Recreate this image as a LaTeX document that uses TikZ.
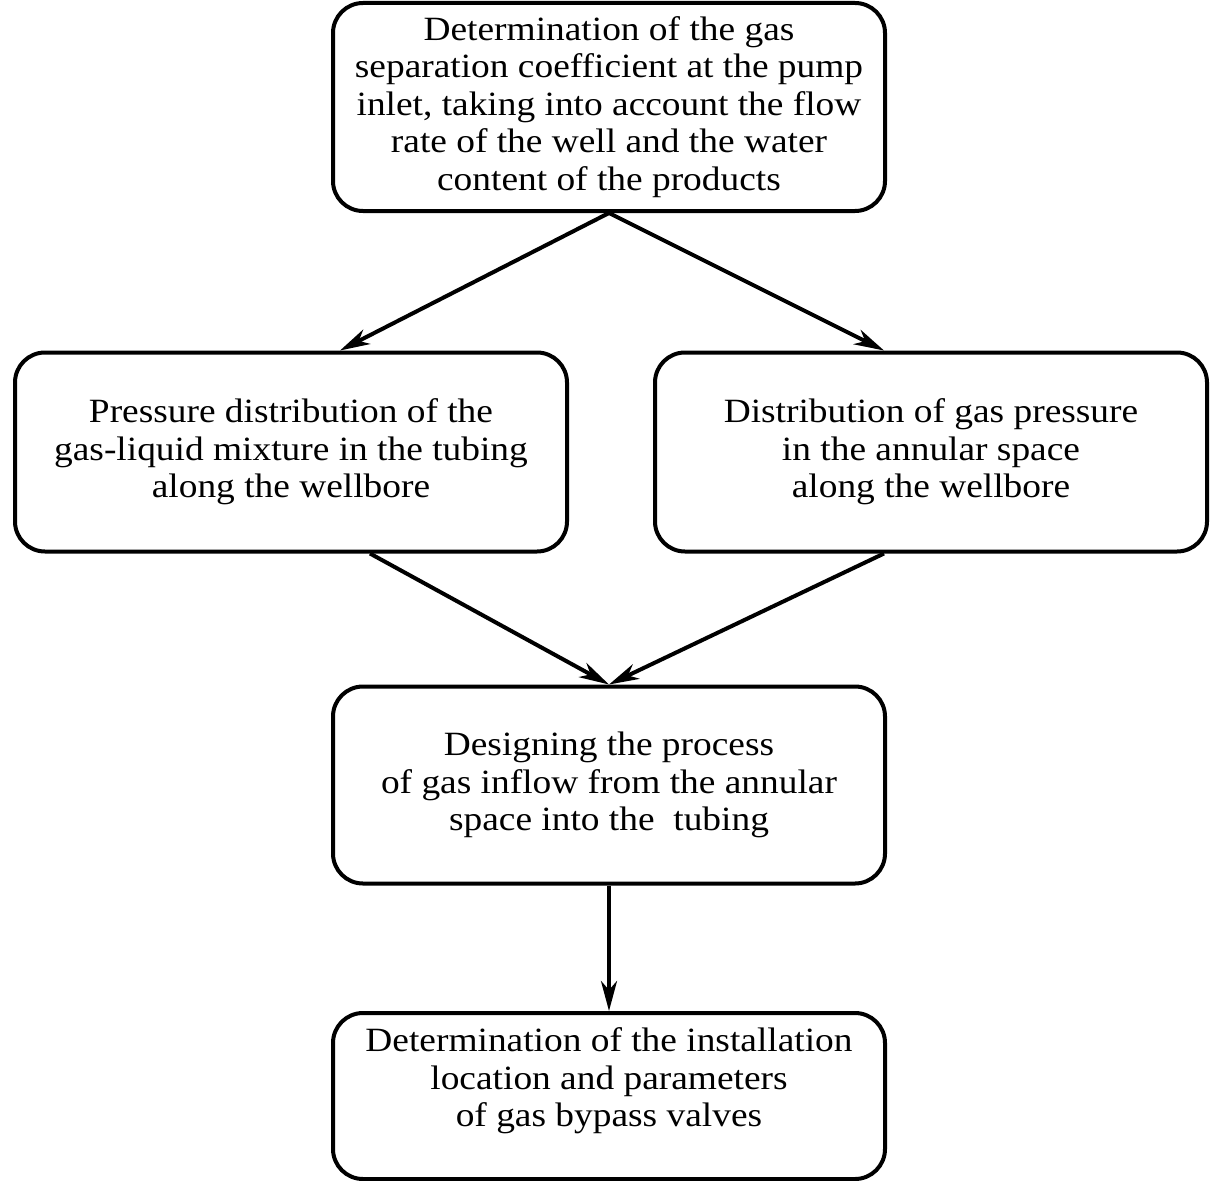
\documentclass[tikz,border=0pt]{standalone}
\usepackage{fontspec}
\setmainfont[FakeStretch=1.1]{Liberation Serif}
\usetikzlibrary{arrows.meta}
\begin{document}
\begin{tikzpicture}[x=1pt,y=-1pt,
  box/.style={draw, line width=4pt, rounded corners=30pt, align=center,
    inner sep=0pt, font=\fontsize{34}{37.5}\selectfont},
  txt/.style={align=center, inner sep=0pt, font=\fontsize{34}{37.5}\selectfont},
  flow/.style={line width=4pt, -{Stealth[length=30pt,width=16pt,inset=9pt]}}]
\useasboundingbox (0,0) rectangle (1212,1180);
\node[box, minimum width=552pt, minimum height=208pt] (top) at (609,107)
  {Determination of the gas\\separation coefficient at the pump\\inlet, taking into account the flow\\rate of the well and the water\\content of the products};
\node[box, minimum width=552pt, minimum height=199pt] (left) at (291,452)
  {Pressure distribution of the\\gas-liquid mixture in the tubing\\along the wellbore};
\node[box, minimum width=552pt, minimum height=199pt] (right) at (931,452)
  {Distribution of gas pressure\\in the annular space\\along the wellbore};
\node[box, minimum width=552pt, minimum height=197pt] (mid) at (609,785)
  {Designing the process\\of gas inflow from the annular\\space into the\ \ tubing};
\node[box, minimum width=552pt, minimum height=166pt] (bot) at (609,1096) {};
\node[txt] (bottext) at (609,1081)
  {Determination of the installation\\location and parameters\\of gas bypass valves};
\draw[flow] (top.south) -- ([xshift=49pt]left.north);
\draw[flow] (top.south) -- ([xshift=-47pt]right.north);
\draw[flow] ([xshift=79pt]left.south) -- (mid.north);
\draw[flow] ([xshift=-47pt]right.south) -- (mid.north);
\draw[flow] (mid.south) -- (bot.north);
\end{tikzpicture}
\end{document}
